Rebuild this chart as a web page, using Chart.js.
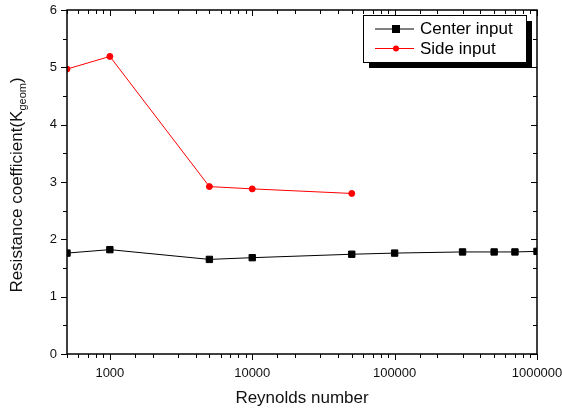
<!DOCTYPE html>
<html>
<head>
<meta charset="utf-8">
<script src="https://cdn.jsdelivr.net/npm/chart.js@4/dist/chart.umd.min.js"></script>
<style>
  html, body { margin: 0; padding: 0; background: #fff; }
  #wrap { width: 562px; height: 414px; }
</style>
</head>
<body>
<div id="wrap"><canvas id="kChart" width="562" height="414"></canvas></div>
<script>
// Dados
const reynoldsCenter = [500, 1000, 5000, 10000, 50000, 100000, 300000, 500000, 700000, 1000000];
const kCenter = [1.76, 1.82, 1.65, 1.68, 1.74, 1.76, 1.78, 1.78, 1.78, 1.79];
const reynoldsSide = [500, 1000, 5000, 10000, 50000];
const kSide = [4.97, 5.19, 2.92, 2.88, 2.80];
const xLabels = [1000, 10000, 100000, 1000000];
const seriesNames = ['Center input', 'Side input'];

const FONT = '"Liberation Sans", Arial, sans-serif';

// Desenha moldura, ticks (para fora em baixo/esquerda, para dentro em cima/direita), títulos e legenda
const framePlugin = {
  id: 'frame',
  afterDraw(chart) {
    const ctx = chart.ctx;
    const a = chart.chartArea;
    const xs = chart.scales.x;
    const ys = chart.scales.y;
    ctx.save();
    ctx.strokeStyle = '#000';
    ctx.lineWidth = 1;

    // ticks eixo X
    xs.ticks.forEach(t => {
      const px = Math.round(xs.getPixelForValue(t.value)) + 0.5;
      const major = Math.abs(Math.log10(t.value) - Math.round(Math.log10(t.value))) < 1e-9;
      const len = major ? 6 : 4;
      ctx.beginPath();
      ctx.moveTo(px, a.bottom); ctx.lineTo(px, a.bottom + len);
      ctx.moveTo(px, a.top); ctx.lineTo(px, a.top + len);
      ctx.stroke();
    });
    // ticks eixo Y
    ys.ticks.forEach(t => {
      const py = Math.round(ys.getPixelForValue(t.value)) + 0.5;
      const major = Math.abs(t.value - Math.round(t.value)) < 1e-9;
      const len = major ? 6 : 4;
      ctx.beginPath();
      ctx.moveTo(a.left, py); ctx.lineTo(a.left - len, py);
      ctx.moveTo(a.right, py); ctx.lineTo(a.right - len, py);
      ctx.stroke();
    });

    // moldura
    ctx.lineWidth = 1.5;
    ctx.strokeRect(a.left, a.top, a.right - a.left, a.bottom - a.top);

    // título eixo X
    ctx.fillStyle = '#111';
    ctx.font = '17px ' + FONT;
    ctx.textAlign = 'center';
    ctx.textBaseline = 'middle';
    ctx.fillText('Reynolds number', (a.left + a.right) / 2, 398);

    // título eixo Y com subscrito
    ctx.save();
    ctx.translate(16, 185);
    ctx.rotate(-Math.PI / 2);
    const main = 'Resistance coefficient(K';
    const sub = 'geom';
    ctx.font = '17px ' + FONT;
    const wMain = ctx.measureText(main).width;
    ctx.font = '11px ' + FONT;
    const wSub = ctx.measureText(sub).width;
    ctx.font = '17px ' + FONT;
    const wClose = ctx.measureText(')').width;
    let x0 = -(wMain + wSub + wClose) / 2;
    ctx.textAlign = 'left';
    ctx.textBaseline = 'alphabetic';
    ctx.fillText(main, x0, 6);
    ctx.font = '11px ' + FONT;
    ctx.fillText(sub, x0 + wMain, 10);
    ctx.font = '17px ' + FONT;
    ctx.fillText(')', x0 + wMain + wSub, 6);
    ctx.restore();

    // legenda com sombra
    const bx = 363, by = 15, bw = 163, bh = 47;
    ctx.fillStyle = '#000';
    ctx.fillRect(bx + 6, by + 6, bw, bh);
    ctx.fillStyle = '#fff';
    ctx.fillRect(bx, by, bw, bh);
    ctx.lineWidth = 1;
    ctx.strokeStyle = '#000';
    ctx.strokeRect(bx + 0.5, by + 0.5, bw, bh);

    chart.data.datasets.forEach((ds, i) => {
      const ly = by + 14 + i * 19.5;
      ctx.strokeStyle = ds.borderColor;
      ctx.lineWidth = 1;
      ctx.beginPath();
      ctx.moveTo(375, ly); ctx.lineTo(414, ly);
      ctx.stroke();
      ctx.fillStyle = ds.pointBackgroundColor;
      if (ds.pointStyle === 'rect') {
        ctx.fillRect(392, ly - 4, 8, 8);
      } else {
        ctx.beginPath();
        ctx.arc(396, ly, 3, 0, Math.PI * 2);
        ctx.fill();
      }
      ctx.fillStyle = '#000';
      ctx.font = '17px ' + FONT;
      ctx.textAlign = 'left';
      ctx.textBaseline = 'middle';
      ctx.fillText(ds.label, 420, ly + 0.5);
    });
    ctx.restore();
  }
};

new Chart(document.getElementById('kChart'), {
  type: 'line',
  data: {
    datasets: [
      {
        label: seriesNames[0],
        data: reynoldsCenter.map((x, i) => ({ x: x, y: kCenter[i] })),
        borderColor: '#000000',
        backgroundColor: '#000000',
        pointBackgroundColor: '#000000',
        pointBorderColor: '#000000',
        pointStyle: 'rect',
        pointRadius: 4.5,
        borderWidth: 1,
        tension: 0,
        clip: 0
      },
      {
        label: seriesNames[1],
        data: reynoldsSide.map((x, i) => ({ x: x, y: kSide[i] })),
        borderColor: '#ff0000',
        backgroundColor: '#ff0000',
        pointBackgroundColor: '#ff0000',
        pointBorderColor: '#ff0000',
        pointStyle: 'circle',
        pointRadius: 3,
        borderWidth: 1,
        tension: 0,
        clip: 0
      }
    ]
  },
  options: {
    responsive: false,
    animation: false,
    layout: { padding: { left: 0, top: 10, right: 25, bottom: 0 } },
    plugins: {
      legend: { display: false },
      tooltip: { enabled: false }
    },
    scales: {
      x: {
        type: 'logarithmic',
        min: 500,
        max: 1000000,
        grid: { display: false, drawTicks: false },
        border: { display: false },
        afterFit: s => { s.height = 60; s.paddingLeft = 0; s.paddingRight = 0; },
        ticks: {
          autoSkip: false,
          maxRotation: 0,
          padding: 12,
          color: '#111',
          font: { family: FONT, size: 13 },
          callback: v => xLabels.includes(v) ? String(v) : ''
        }
      },
      y: {
        min: 0,
        max: 6,
        grid: { display: false, drawTicks: false },
        border: { display: false },
        afterFit: s => { s.width = 67; s.paddingTop = 0; s.paddingBottom = 0; },
        ticks: {
          stepSize: 0.5,
          padding: 10,
          color: '#111',
          font: { family: FONT, size: 13 },
          callback: v => Number.isInteger(v) ? String(v) : ''
        }
      }
    }
  },
  plugins: [framePlugin]
});
</script>
</body>
</html>
